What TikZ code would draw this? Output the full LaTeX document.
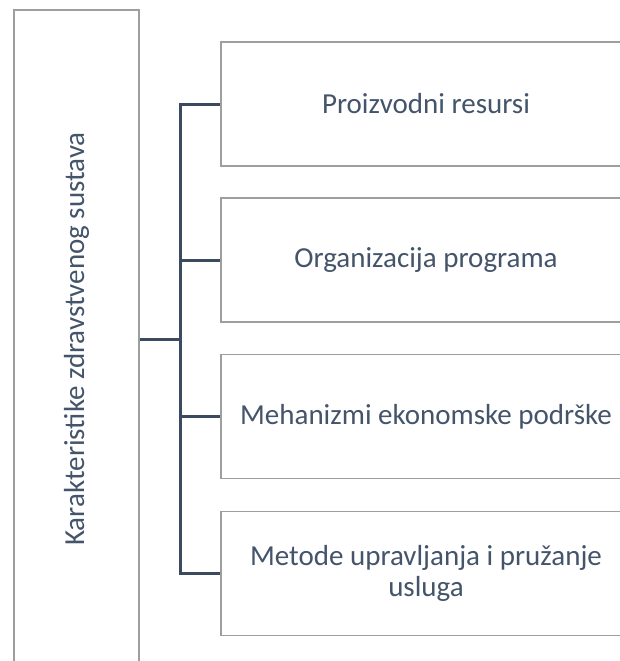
\documentclass[tikz,border=0pt]{standalone}
\usepackage{fontspec}
\setmainfont{Carlito}
\definecolor{txt}{HTML}{44546A}
\definecolor{conn}{HTML}{3B4A5F}
\definecolor{bord}{HTML}{9E9E9E}
\begin{document}
\begin{tikzpicture}[x=1pt,y=-1pt,
  box/.style={draw=bord,line width=1.8pt,fill=white,text=txt,align=center,
    font=\fontsize{29}{31}\selectfont,inner sep=0pt},
  itembox/.style={box,minimum width=410pt,minimum height=124pt},
  mainbox/.style={box,rotate=90,minimum width=658pt,minimum height=125pt},
  link/.style={draw=conn,line width=3pt}]
\useasboundingbox (0,0) rectangle (620,661);
\clip (0,0) rectangle (620,661);
\node[mainbox] (L) at (76.5,339) {Karakteristike zdravstvenog sustava};
\node[itembox] (b1) at (426,104) {Proizvodni resursi};
\node[itembox] (b2) at (426,260) {Organizacija programa};
\node[itembox] (b3) at (426,416.5) {Mehanizmi ekonomske podrške};
\node[itembox] (b4) at (426,573.5) {Metode upravljanja i pružanje\\usluga};
\coordinate (j) at (180,339);
\draw[link] (L) -- (j);
\draw[link,line join=miter] (b1.west) -- (b1.west -| j) -- (b4.west -| j) -- (b4.west);
\draw[link] (b2.west) -- (b2.west -| j);
\draw[link] (b3.west) -- (b3.west -| j);
\end{tikzpicture}
\end{document}
